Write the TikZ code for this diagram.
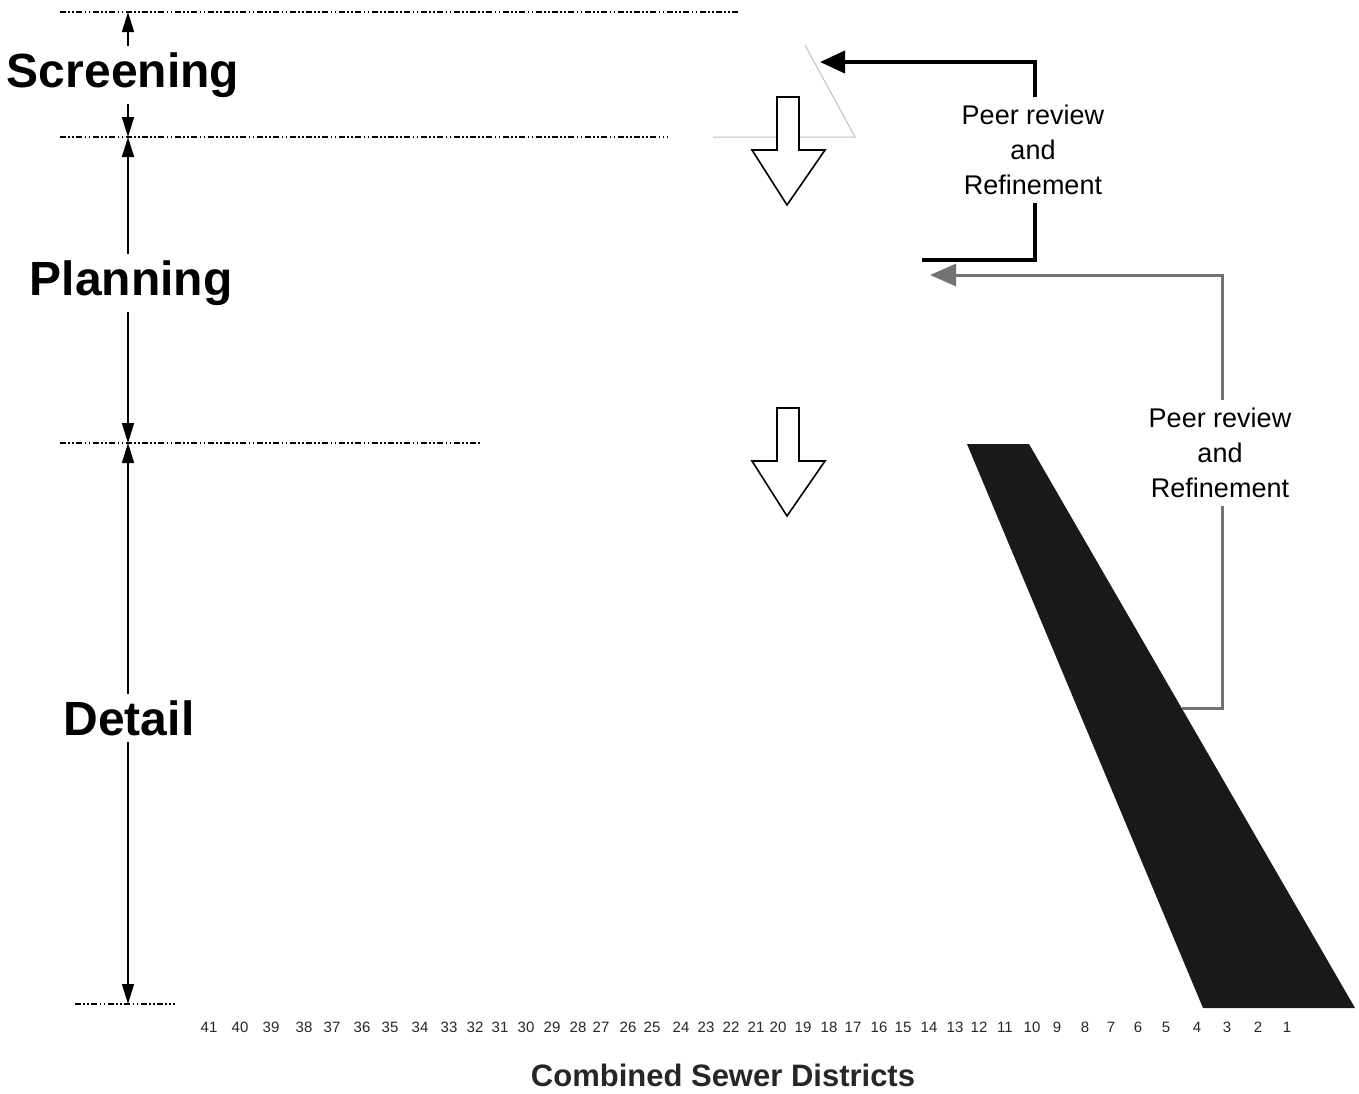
\documentclass[tikz,border=0pt]{standalone}
\usepackage{fontspec}
\setmainfont{Liberation Sans}
\usetikzlibrary{arrows.meta,positioning,calc}

\tikzset{
	level/.style={line width=0.8pt, dash pattern=on 3pt off 1.2pt on 0.8pt off 1.2pt on 0.8pt off 1.2pt},
	dimarrow/.style={line width=0.8pt, -{Triangle[width=6pt,length=10pt]}},
	stage/.style={font=\bfseries\fontsize{24}{28}\selectfont, inner sep=3pt},
	review/.style={align=center, font=\fontsize{13.5}{17.5}\selectfont, inner sep=4pt},
	fbk/.style={line width=2pt},
	fbg/.style={line width=1.5pt, draw=black!55},
	hollow/.style={draw, line width=0.8pt, fill=white},
	num/.style={font=\fontsize{7.5}{9}\selectfont, text=black!85, inner sep=1pt},
}

\begin{document}
\begin{tikzpicture}[x=0.5pt,y=-0.5pt]
	\useasboundingbox (0,0) rectangle (1359,1093);
	
	% level lines
	\coordinate (l0) at (128,12);
	\coordinate (l1) at (128,137);
	\coordinate (l2) at (128,443);
	\coordinate (l3) at (128,1004);
	\draw[level] (60,12) -- (740,12);
	\draw[level] (60,137) -- (668,137);
	\draw[level] (60,443) -- (480,443);
	\draw[level] (75,1004) -- (175,1004);
	
	% faint screening triangle
	\draw[black!25, line width=0.5pt] (805,45) -- (855,137) -- (713,137);
	
	% stages
	\node[stage] (scr) at (123,75) {Screening};
	\node[stage] (pla) at (131,283) {Planning};
	\node[stage] (det) at (129,718) {Detail};
	\draw[dimarrow] (scr.north -| l0) -- (l0);
	\draw[dimarrow] (scr.south -| l0) -- (l1);
	\draw[dimarrow] (pla.north -| l1) -- (l1);
	\draw[dimarrow] (pla.south -| l1) -- (l2);
	\draw[dimarrow] (det.north -| l2) -- (l2);
	\draw[dimarrow] (det.south -| l2) -- (l3);
	
	% hollow block arrows
	\foreach \y in {0,311}
		\draw[hollow] (777,97+\y) -- (799,97+\y) -- (799,150+\y) -- (825,150+\y) -- (787,205+\y)
		-- (752,150+\y) -- (777,150+\y) -- cycle;
	
	% detail wedge
	\fill[black!90] (967,444) -- (1029,444) -- (1355,1008) -- (1203,1008) -- cycle;
	\coordinate (wedge) at (1182,708);
	
	% peer review loops
	\node[review] (pr1) at (1033,150) {Peer review\\and\\Refinement};
	\coordinate (fb1s) at (922,260);
	\coordinate (fb1e) at (820,62);
	\draw[fbk] (fb1s) -| (pr1.south -| 1035,0);
	\draw[fbk, -{Triangle[width=11pt,length=12.5pt]}] (pr1.north -| 1035,0) |- (fb1e);
	
	\node[review] (pr2) at (1220,453) {Peer review\\and\\Refinement};
	\coordinate (fb2e) at (930,275);
	\draw[fbg] (wedge) -| (pr2.south -| 1222,0);
	\draw[fbg, -{Triangle[width=11pt,length=13pt]}] (pr2.north -| 1222,0) |- (fb2e);
	
	% districts
	\foreach \n/\x in {41/209, 40/240, 39/271, 38/304, 37/332, 36/362, 35/390, 34/420, 33/449,
		32/475, 31/500, 30/526, 29/552, 28/578, 27/601, 26/628, 25/652, 24/681, 23/706, 22/731,
		21/756, 20/778, 19/803, 18/829, 17/853, 16/879, 15/903, 14/929, 13/955, 12/979, 11/1005,
		10/1032, 9/1057, 8/1085, 7/1111, 6/1138, 5/1166, 4/1197, 3/1227, 2/1258, 1/1287}
		\node[num] (d\n) at (\x,1027) {\n};
	\node[font=\bfseries\fontsize{15.5}{18}\selectfont, text=black!85] (axis) at (723,1075) {Combined Sewer Districts};
	
\end{tikzpicture}
\end{document}
